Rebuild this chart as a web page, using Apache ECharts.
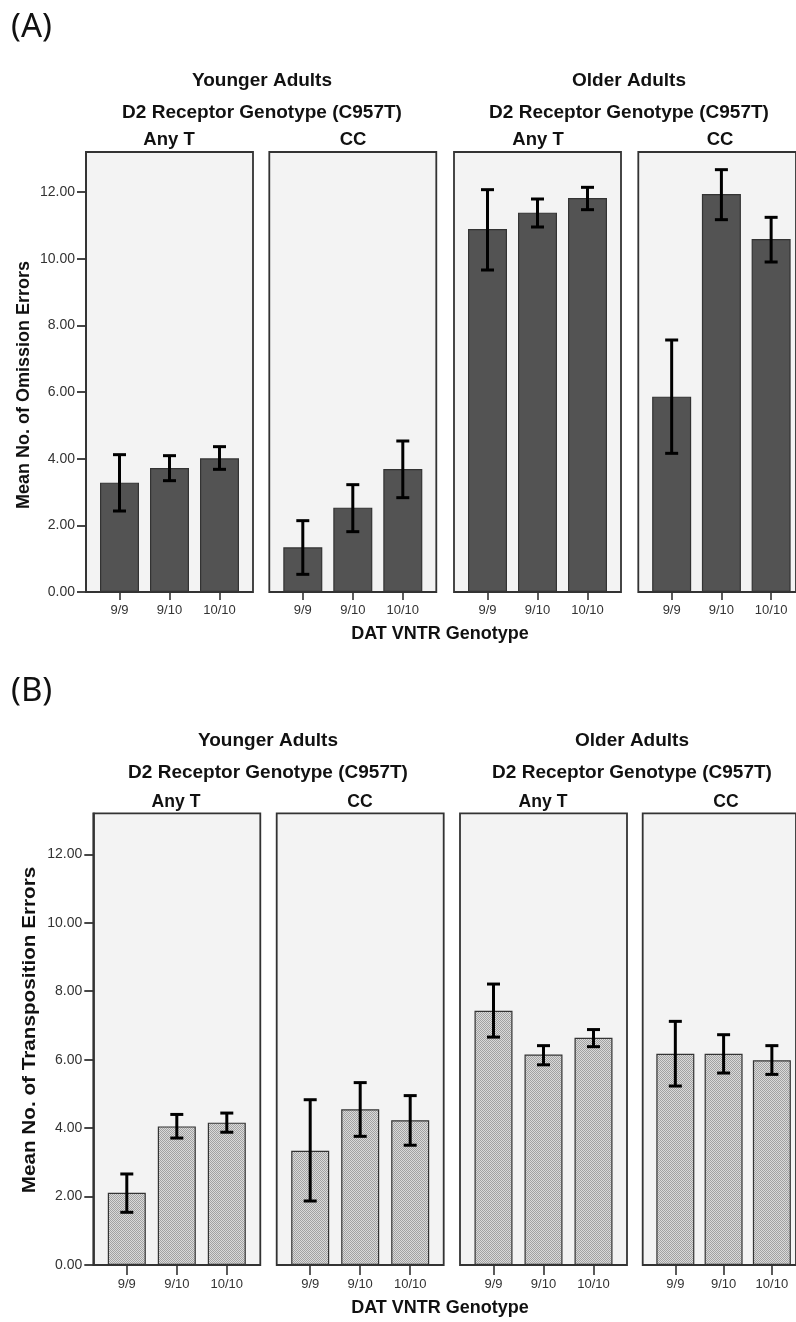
<!DOCTYPE html>
<html>
<head>
<meta charset="utf-8">
<script src="https://cdn.jsdelivr.net/npm/echarts@6/dist/echarts.min.js"></script>
<style>
html,body{margin:0;padding:0;background:#fff;}
#chart{width:796px;height:1322px;}
</style>
</head>
<body>
<div id="chart"></div>
<script>
// ---------------- DATA ----------------
const categories = ['9/9', '9/10', '10/10'];
const panelNames = ['Any T', 'CC', 'Any T', 'CC'];
const groupNames = ['Younger Adults', 'Older Adults'];
const factorName = 'D2 Receptor Genotype (C957T)';
const xTitle = 'DAT VNTR Genotype';
const yTitleA = 'Mean No. of Omission Errors';
const yTitleB = 'Mean No. of Transposition Errors';
const yTicks = [0, 2, 4, 6, 8, 10, 12];
const yMax = 13.2;

// Panel A: omission errors (panels: Young AnyT, Young CC, Old AnyT, Old CC)
const omissionMean = [[3.28, 3.72, 4.01], [1.34, 2.53, 3.69], [10.89, 11.38, 11.82], [5.86, 11.94, 10.59]];
const omissionLow  = [[2.43, 3.34, 3.68], [0.53, 1.81, 2.83], [9.66, 10.95, 11.47], [4.16, 11.17, 9.90]];
const omissionHigh = [[4.12, 4.09, 4.36], [2.14, 3.22, 4.53], [12.07, 11.79, 12.14], [7.56, 12.67, 11.24]];

// Panel B: transposition errors
const transMean = [[2.11, 4.05, 4.16], [3.34, 4.55, 4.23], [7.43, 6.15, 6.64], [6.17, 6.17, 5.98]];
const transLow  = [[1.54, 3.71, 3.88], [1.87, 3.76, 3.50], [6.66, 5.85, 6.38], [5.23, 5.61, 5.57]];
const transHigh = [[2.66, 4.40, 4.44], [4.83, 5.33, 4.95], [8.21, 6.41, 6.88], [7.12, 6.73, 6.41]];

// ---------------- LAYOUT ----------------
const FONT = '"Liberation Sans", Arial, sans-serif';
const NARROW = '"Liberation Sans Narrow", "Liberation Sans", Arial, sans-serif';
const figA = {top: 152, height: 440, lefts: [86, 269.3, 454, 638.3], width: 167, pad: 8.5, barWidth: 39, tickLen: 8, labelMargin: 12};
const figB = {top: 813.3, height: 451.7, lefts: [93.3, 276.7, 460, 642.7], width: 167, pad: 8.5, barWidth: 38, tickLen: 10, labelMargin: 13};

// checker pattern for panel B bars
const pat = document.createElement('canvas');
pat.width = 2; pat.height = 2;
const pc = pat.getContext('2d');
pc.fillStyle = '#dadada'; pc.fillRect(0, 0, 2, 2);
pc.fillStyle = '#a2a2a2'; pc.fillRect(0, 0, 1, 1); pc.fillRect(1, 1, 1, 1);

const grids = [], xAxes = [], yAxes = [], series = [];

function errorRender(params, api) {
  const x = api.value(0);
  const lo = api.coord([x, api.value(1)]);
  const hi = api.coord([x, api.value(2)]);
  const w = 6.5;
  const st = {stroke: '#000', lineWidth: 3};
  return {type: 'group', children: [
    {type: 'line', shape: {x1: lo[0], y1: lo[1], x2: hi[0], y2: hi[1]}, style: st},
    {type: 'line', shape: {x1: lo[0] - w, y1: lo[1], x2: lo[0] + w, y2: lo[1]}, style: st},
    {type: 'line', shape: {x1: hi[0] - w, y1: hi[1], x2: hi[0] + w, y2: hi[1]}, style: st}
  ]};
}

function addFigure(fig, means, lows, highs, barColor) {
  for (let p = 0; p < 4; p++) {
    // outer panel box
    const g = grids.length;
    grids.push({left: fig.lefts[p], top: fig.top, width: fig.width, height: fig.height,
      show: true, backgroundColor: '#f3f3f3', borderColor: '#333', borderWidth: 1.8});
    xAxes.push({gridIndex: g, type: 'value', show: false, min: 0, max: 1});
    yAxes.push({gridIndex: g, type: 'value', min: 0, max: yMax, show: p === 0,
      axisLine: {show: true, lineStyle: {color: '#333', width: 1.8}},
      axisTick: {show: true, length: 9, customValues: yTicks, lineStyle: {color: '#333', width: 1.8}},
      axisLabel: {customValues: yTicks, formatter: v => v.toFixed(2), margin: 11, fontSize: 14, color: '#333', fontFamily: FONT},
      splitLine: {show: false}});
    // inner bar grid
    const gi = grids.length;
    grids.push({left: fig.lefts[p] + fig.pad, top: fig.top, width: 150, height: fig.height});
    xAxes.push({gridIndex: gi, type: 'category', data: categories,
      axisLine: {show: false},
      axisTick: {show: true, alignWithLabel: true, length: fig.tickLen, lineStyle: {color: '#333', width: 1.6}},
      axisLabel: {margin: fig.labelMargin, fontSize: 13, color: '#333', fontFamily: NARROW}});
    yAxes.push({gridIndex: gi, type: 'value', min: 0, max: yMax, show: false});
    series.push({type: 'bar', xAxisIndex: gi, yAxisIndex: gi, data: means[p], barWidth: fig.barWidth,
      itemStyle: {color: barColor, borderColor: '#333', borderWidth: 1.2}, z: 2, silent: true});
    series.push({type: 'custom', xAxisIndex: gi, yAxisIndex: gi, renderItem: errorRender,
      encode: {x: 0, y: [1, 2]}, data: lows[p].map((l, i) => [i, l, highs[p][i]]), z: 3, silent: true});
  }
}

addFigure(figA, omissionMean, omissionLow, omissionHigh, '#535353');
addFigure(figB, transMean, transLow, transHigh, {image: pat, repeat: 'repeat'});

function txt(t, x, y, size, opts) {
  opts = opts || {};
  return {type: 'text', x: x, y: y, rotation: opts.rot || 0, scaleX: opts.sx || 1,
    style: {text: t, font: (opts.normal ? '' : 'bold ') + size + 'px ' + (opts.family || FONT),
      textAlign: opts.align || 'center', textVerticalAlign: 'middle', fill: '#111'}};
}

const graphics = [
  txt('(A)', 11, 28, 33, {normal: true, align: 'left', family: '"Noto Sans", sans-serif'}),
  txt(groupNames[0], 262, 81, 19), txt(factorName, 262, 113, 19),
  txt(panelNames[0], 169, 140, 18.5), txt(panelNames[1], 353, 140, 18.5),
  txt(groupNames[1], 629, 81, 19), txt(factorName, 629, 113, 19),
  txt(panelNames[2], 538, 140, 18.5), txt(panelNames[3], 720, 140, 18.5),
  txt(yTitleA, 24, 385, 18, {rot: Math.PI / 2}),
  txt(xTitle, 440, 634, 18),

  txt('(B)', 11, 692, 33, {normal: true, align: 'left', family: '"Noto Sans", sans-serif'}),
  txt(groupNames[0], 268, 741, 19), txt(factorName, 268, 773, 19),
  txt(panelNames[0], 176, 802, 18.5, {sx: 0.95}), txt(panelNames[1], 360, 802, 18.5, {sx: 0.95}),
  txt(groupNames[1], 632, 741, 19), txt(factorName, 632, 773, 19),
  txt(panelNames[2], 543, 802, 18.5, {sx: 0.95}), txt(panelNames[3], 726, 802, 18.5, {sx: 0.95}),
  txt(yTitleB, 30, 1030, 18, {rot: Math.PI / 2, sx: 1.15}),
  txt(xTitle, 440, 1308, 18)
];

const chart = echarts.init(document.getElementById('chart'), null, {renderer: 'canvas'});
chart.setOption({
  animation: false,
  backgroundColor: '#fff',
  grid: grids,
  xAxis: xAxes,
  yAxis: yAxes,
  series: series,
  graphic: graphics
});
</script>
</body>
</html>
